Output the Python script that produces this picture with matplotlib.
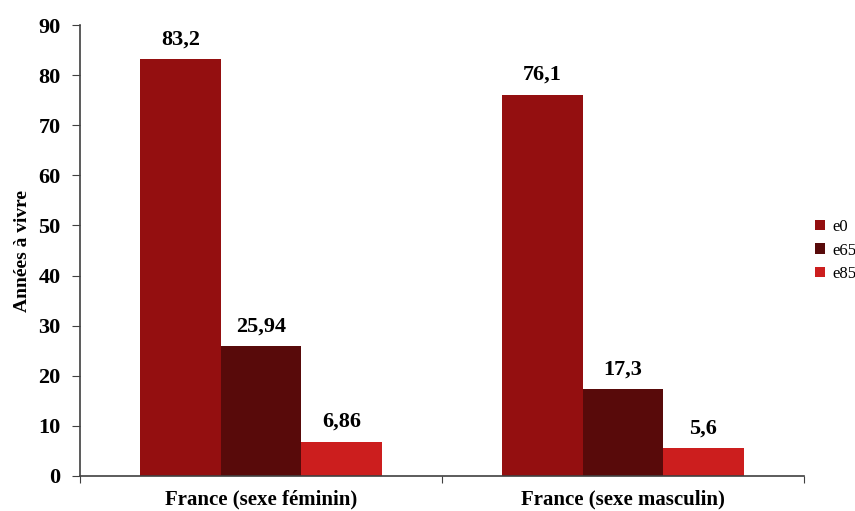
import matplotlib.pyplot as plt
import numpy as np

plt.rcParams['font.family'] = ['Liberation Serif', 'DejaVu Serif']

categories = ['France (sexe féminin)', 'France (sexe masculin)']
series = ['e0', 'e65', 'e85']
e0 = [83.2, 76.1]
e65 = [25.94, 17.3]
e85 = [6.86, 5.6]
labels = [['83,2', '76,1'], ['25,94', '17,3'], ['6,86', '5,6']]
colors = ['#940F10', '#580A0A', '#CC1E1E']

fig = plt.figure(figsize=(8.55, 5.11), dpi=100)
ax = fig.add_axes([0.0936, 0.0685, 0.8468, 0.8825])

# three bars per category, 150% gap (bar width = 1/4.5 of a category)
w = 1 / 4.5
x = np.arange(len(categories)) + 0.5
for i, (vals, col, name) in enumerate(zip([e0, e65, e85], colors, series)):
    pos = x + (i - 1) * w
    bars = ax.bar(pos, vals, width=w, color=col, label=name, linewidth=0)
    for b, lab in zip(bars, labels[i]):
        ax.annotate(lab, (b.get_x() + b.get_width() / 2, b.get_height()),
                    xytext=(0, 7), textcoords='offset points',
                    ha='center', va='bottom', fontsize=16, fontweight='bold')

ax.set_xlim(0, 2)
ax.set_ylim(0, 90)
ax.set_yticks(range(0, 91, 10))
ax.set_xticks([0, 1, 2])
ax.set_xticklabels([])
ax.set_xticks(x, minor=True)
ax.set_xticklabels(categories, minor=True, fontsize=15, fontweight='bold')
ax.tick_params(axis='x', which='minor', length=0, pad=10)
ax.tick_params(axis='x', which='major', length=5, color='#404040', direction='out')
ax.tick_params(axis='y', length=6, color='#404040', pad=8, labelsize=16)
for t in ax.get_yticklabels():
    t.set_fontweight('bold')

for s in ['top', 'right']:
    ax.spines[s].set_visible(False)
for s in ['left', 'bottom']:
    ax.spines[s].set_color('#404040')
    ax.spines[s].set_linewidth(1.2)

ax.set_ylabel('Années à vivre', fontsize=14, fontweight='bold', labelpad=5)

ax.legend(loc='center left', bbox_to_anchor=(0.995, 0.5), frameon=False,
          fontsize=12, handlelength=0.6, handleheight=0.6, handletextpad=0.4,
          labelspacing=0.45)

fig.savefig('out.png', dpi=100)
